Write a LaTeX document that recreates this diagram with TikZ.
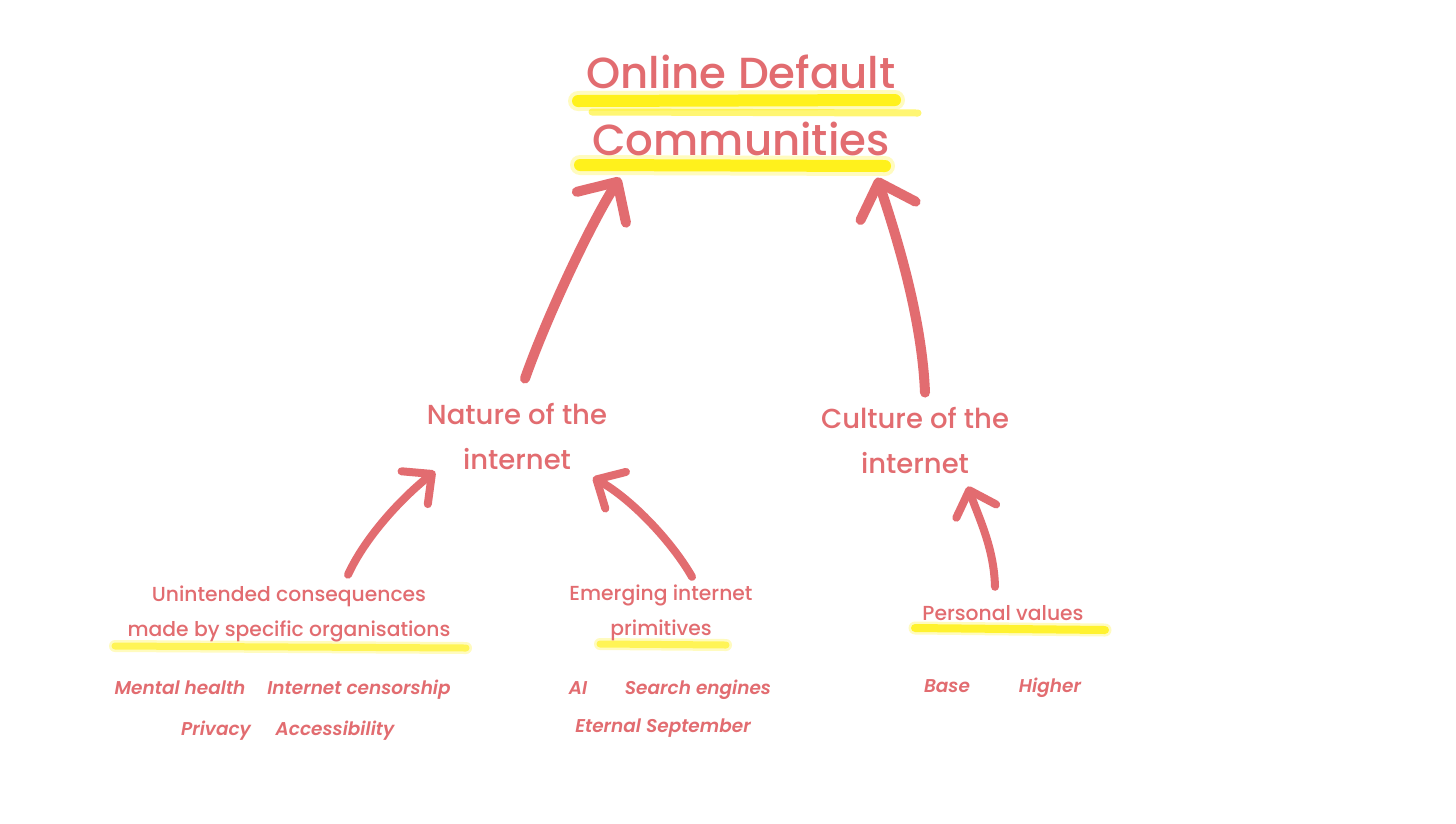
\documentclass[tikz,border=0pt]{standalone}
\usepackage{fontspec}
\setmainfont{Poppins}[UprightFont={Poppins Medium}, ItalicFont={Poppins SemiBold Italic}]
\usetikzlibrary{arrows.meta}
\definecolor{penred}{RGB}{226,108,112}
\definecolor{hilite}{RGB}{255,240,0}
\tikzset{
	head/.style={text=penred, inner sep=0pt, anchor=base, font=\fontsize{43.5}{50}\selectfont},
	mid/.style={text=penred, inner sep=0pt, align=center, font=\fontsize{27.5}{45}\selectfont},
	low/.style={text=penred, inner sep=0pt, align=center, font=\fontsize{20.3}{35}\selectfont},
	item/.style={text=penred, inner sep=0pt, anchor=base, font=\fontsize{18.5}{22}\selectfont\itshape},
	marker/.style={draw=hilite, line cap=round, opacity=.85},
	halo/.style={draw=hilite, line cap=round, opacity=.25},
	bigarr/.style={draw=penred, line width=10pt, line cap=round, -{Straight Barb[length=30pt,width=58pt,round]}},
	smallarr/.style={draw=penred, line width=8pt, line cap=round, -{Straight Barb[length=22pt,width=42pt,round]}}
}
\begin{document}
\begin{tikzpicture}[x=1pt,y=1pt]
	\useasboundingbox[fill=white] (0,0) rectangle (1456,-823);
	% highlighter strokes
	\draw[halo, line width=20pt] (578,-101) -- (895,-100);
	\draw[marker, line width=12pt] (578,-101) -- (895,-100);
	\draw[marker, line width=7pt, opacity=.55] (592,-112) -- (918,-113);
	\draw[halo, line width=20pt] (580,-165) -- (885,-166);
	\draw[marker, line width=12pt] (580,-165) -- (885,-166);
	\draw[halo, line width=12pt] (115,-646) -- (466,-648);
	\draw[marker, line width=7pt, opacity=.55] (115,-646) -- (466,-648);
	\draw[halo, line width=12pt] (600,-644) -- (726,-645);
	\draw[marker, line width=7pt, opacity=.55] (600,-644) -- (726,-645);
	\draw[halo, line width=13pt] (915,-628) -- (1105,-630);
	\draw[marker, line width=8pt, opacity=.75] (915,-628) -- (1105,-630);
	% main labels
	\node[head] (online) at (741,-88) {Online Default};
	\node[head] (communities) at (741,-155) {Communities};
	\node[mid] (nature) at (517,-436) {Nature of the\\internet};
	\node[mid] (culture) at (915,-440) {Culture of the\\internet};
	\node[low] (unintended) at (289,-614) {Unintended consequences\\made by specific organisations};
	\node[low] (emerging) at (661,-613) {Emerging internet\\primitives};
	\node[low, anchor=base] (personal) at (1003,-620) {Personal values};
	% sub items
	\node[item] (mental) at (180,-694) {Mental health};
	\node[item] (censor) at (359,-694) {Internet censorship};
	\node[item] (privacy) at (216,-735) {Privacy};
	\node[item] (access) at (335,-735) {Accessibility};
	\node[item] (ai) at (578,-694) {AI};
	\node[item] (search) at (698,-694) {Search engines};
	\node[item] (eternal) at (663,-732) {Eternal September};
	\node[item] (base) at (947,-692) {Base};
	\node[item] (higher) at (1050,-692) {Higher};
	% arrows
	\draw[bigarr] ([shift={(8,24)}]nature.north) .. controls +(20,57) and +(-32,-51) .. ([shift={(-121,-22)}]communities.south);
	\draw[bigarr] ([shift={(10,14)}]culture.north) .. controls +(-3,73) and +(21,-63) .. ([shift={(136,-22)}]communities.south);
	\draw[smallarr] ([shift={(59,11)}]unintended.north) .. controls +(17,37) and +(-35,-28) .. ([shift={(-82,-2)}]nature.south);
	\draw[smallarr] ([shift={(31,8)}]emerging.north) .. controls +(-20,35) and +(39,-22) .. ([shift={(76,-8)}]nature.south);
	\draw[smallarr] ([shift={(-8,18)}]personal.north) .. controls +(-1,40) and +(10,-30) .. ([shift={(53,-13)}]culture.south);
\end{tikzpicture}
\end{document}
